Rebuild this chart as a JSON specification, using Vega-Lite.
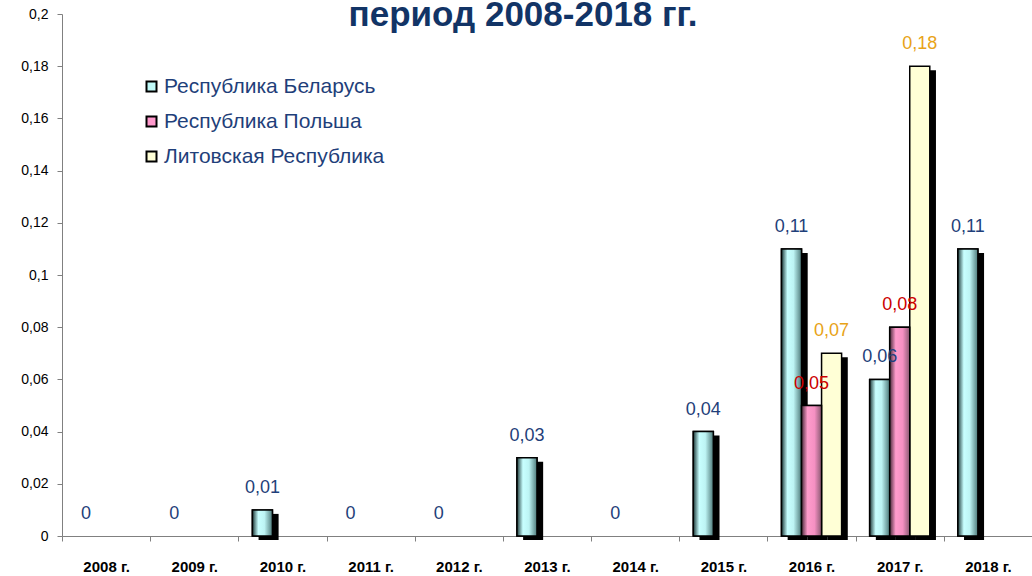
{
  "$schema": "https://vega.github.io/schema/vega-lite/v6.json",
  "autosize": "none",
  "width": 970,
  "height": 522,
  "padding": {"left": 62, "top": 14, "right": 0, "bottom": 40},
  "background": "white",
  "title": {
    "text": "период 2008-2018 гг.",
    "font": "Liberation Sans",
    "fontSize": 35,
    "fontWeight": "bold",
    "color": "#123466",
    "anchor": "middle",
    "frame": "group",
    "dx": -24,
    "offset": -54,
    "baseline": "alphabetic"
  },
  "config": {
    "locale": {"number": {"decimal": ",", "thousands": " ", "grouping": [3], "currency": ["", " ₽"]}},
    "view": {"stroke": null},
    "font": "Liberation Sans"
  },
  "data": {
    "values": [
      {"year": "2008 г.", "series": "Республика Беларусь", "value": 0},
      {"year": "2009 г.", "series": "Республика Беларусь", "value": 0},
      {"year": "2010 г.", "series": "Республика Беларусь", "value": 0.01},
      {"year": "2011 г.", "series": "Республика Беларусь", "value": 0},
      {"year": "2012 г.", "series": "Республика Беларусь", "value": 0},
      {"year": "2013 г.", "series": "Республика Беларусь", "value": 0.03},
      {"year": "2014 г.", "series": "Республика Беларусь", "value": 0},
      {"year": "2015 г.", "series": "Республика Беларусь", "value": 0.04},
      {"year": "2016 г.", "series": "Республика Беларусь", "value": 0.11},
      {"year": "2017 г.", "series": "Республика Беларусь", "value": 0.06},
      {"year": "2018 г.", "series": "Республика Беларусь", "value": 0.11},
      {"year": "2008 г.", "series": "Республика Польша", "value": 0},
      {"year": "2009 г.", "series": "Республика Польша", "value": 0},
      {"year": "2010 г.", "series": "Республика Польша", "value": 0},
      {"year": "2011 г.", "series": "Республика Польша", "value": 0},
      {"year": "2012 г.", "series": "Республика Польша", "value": 0},
      {"year": "2013 г.", "series": "Республика Польша", "value": 0},
      {"year": "2014 г.", "series": "Республика Польша", "value": 0},
      {"year": "2015 г.", "series": "Республика Польша", "value": 0},
      {"year": "2016 г.", "series": "Республика Польша", "value": 0.05},
      {"year": "2017 г.", "series": "Республика Польша", "value": 0.08},
      {"year": "2018 г.", "series": "Республика Польша", "value": 0},
      {"year": "2008 г.", "series": "Литовская Республика", "value": 0},
      {"year": "2009 г.", "series": "Литовская Республика", "value": 0},
      {"year": "2010 г.", "series": "Литовская Республика", "value": 0},
      {"year": "2011 г.", "series": "Литовская Республика", "value": 0},
      {"year": "2012 г.", "series": "Литовская Республика", "value": 0},
      {"year": "2013 г.", "series": "Литовская Республика", "value": 0},
      {"year": "2014 г.", "series": "Литовская Республика", "value": 0},
      {"year": "2015 г.", "series": "Литовская Республика", "value": 0},
      {"year": "2016 г.", "series": "Литовская Республика", "value": 0.07},
      {"year": "2017 г.", "series": "Литовская Республика", "value": 0.18},
      {"year": "2018 г.", "series": "Литовская Республика", "value": 0}
    ]
  },
  "encoding": {
    "x": {
      "field": "year",
      "type": "nominal",
      "sort": null,
      "scale": {"domain": ["2008 г.", "2009 г.", "2010 г.", "2011 г.", "2012 г.", "2013 г.", "2014 г.", "2015 г.", "2016 г.", "2017 г.", "2018 г."], "paddingInner": 0, "paddingOuter": 0},
      "axis": {
        "title": null,
        "labelAngle": 0,
        "labelFont": "Liberation Sans",
        "labelFontSize": 15,
        "labelFontWeight": "bold",
        "labelColor": "#000000",
        "labelPadding": 18,
        "tickBand": "extent",
        "tickSize": 5,
        "tickColor": "#808080",
        "domainColor": "#808080",
        "grid": false
      }
    },
    "y": {
      "field": "value",
      "type": "quantitative",
      "scale": {"domain": [0, 0.2], "nice": false},
      "axis": {
        "title": null,
        "values": [0, 0.02, 0.04, 0.06, 0.08, 0.1, 0.12, 0.14, 0.16, 0.18, 0.2],
        "format": "~g",
        "labelFont": "Liberation Sans",
        "labelFontSize": 14,
        "labelColor": "#000000",
        "labelPadding": 9,
        "tickSize": 5,
        "tickColor": "#808080",
        "domainColor": "#808080",
        "grid": false
      }
    }
  },
  "layer": [
    {
      "transform": [{"filter": "datum.value > 0"}],
      "mark": {"type": "bar", "color": "#000000", "yOffset": 4, "y2Offset": 4},
      "encoding": {
        "xOffset": {
          "field": "series",
          "sort": null,
          "scale": {"domain": ["Республика Беларусь", "Республика Польша", "Литовская Республика"], "paddingInner": 0, "paddingOuter": 0.7, "align": 0.72}
        }
      }
    },
    {
      "encoding": {
        "xOffset": {
          "field": "series",
          "sort": null,
          "scale": {"domain": ["Республика Беларусь", "Республика Польша", "Литовская Республика"], "paddingInner": 0, "paddingOuter": 0.7}
        }
      },
      "layer": [
        {
          "transform": [{"filter": "datum.value > 0"}],
          "mark": {"type": "bar", "stroke": "#000000", "strokeWidth": 1.5},
          "encoding": {
            "color": {
              "field": "series",
              "sort": null,
              "scale": {"domain": ["Республика Беларусь", "Республика Польша", "Литовская Республика"], "range": ["#C0FAF8", "#FF99CC", "#FFFFD6"]},
              "legend": {
                "title": null,
                "orient": "none",
                "legendX": 79,
                "legendY": 62,
                "labelFont": "Liberation Sans",
                "labelFontSize": 21,
                "labelColor": "#1F3F7A",
                "labelLimit": 400,
                "symbolType": "square",
                "symbolSize": 100,
                "symbolStrokeColor": "#000000",
                "symbolStrokeWidth": 2,
                "symbolOpacity": 1,
                "rowPadding": 13,
                "labelOffset": 2
              }
            }
          }
        },
        {
          "transform": [{"filter": "datum.value > 0 && datum.series == 'Республика Беларусь'"}],
          "mark": {
            "type": "bar",
            "stroke": "#000000",
            "strokeWidth": 1.5,
            "fill": {
              "gradient": "linear", "x1": 0, "x2": 1, "y1": 0, "y2": 0,
              "stops": [
                {"offset": 0, "color": "#1E3A3A"},
                {"offset": 0.3, "color": "#C8FFFF"},
                {"offset": 0.6, "color": "#BDF4F4"},
                {"offset": 1, "color": "#4E7A7A"}
              ]
            }
          }
        },
        {
          "transform": [{"filter": "datum.value > 0 && datum.series == 'Республика Польша'"}],
          "mark": {
            "type": "bar",
            "stroke": "#000000",
            "strokeWidth": 1.5,
            "fill": {
              "gradient": "linear", "x1": 0, "x2": 1, "y1": 0, "y2": 0,
              "stops": [
                {"offset": 0, "color": "#4A2A3A"},
                {"offset": 0.3, "color": "#FF9CCC"},
                {"offset": 0.65, "color": "#F590C2"},
                {"offset": 1, "color": "#8A5A72"}
              ]
            }
          }
        },
        {
          "transform": [{"filter": "datum.series == 'Республика Беларусь' || datum.value > 0"}],
          "mark": {"type": "text", "font": "Liberation Sans", "fontSize": 18, "baseline": "alphabetic", "dy": -17},
          "encoding": {
            "text": {"field": "value", "type": "quantitative", "format": "~g"},
            "fill": {
              "field": "series",
              "sort": null,
              "scale": {"domain": ["Республика Беларусь", "Республика Польша", "Литовская Республика"], "range": ["#1F3F7A", "#CC0000", "#E8A317"]},
              "legend": null
            }
          }
        }
      ]
    }
  ],
  "resolve": {"scale": {"xOffset": "independent"}}
}
